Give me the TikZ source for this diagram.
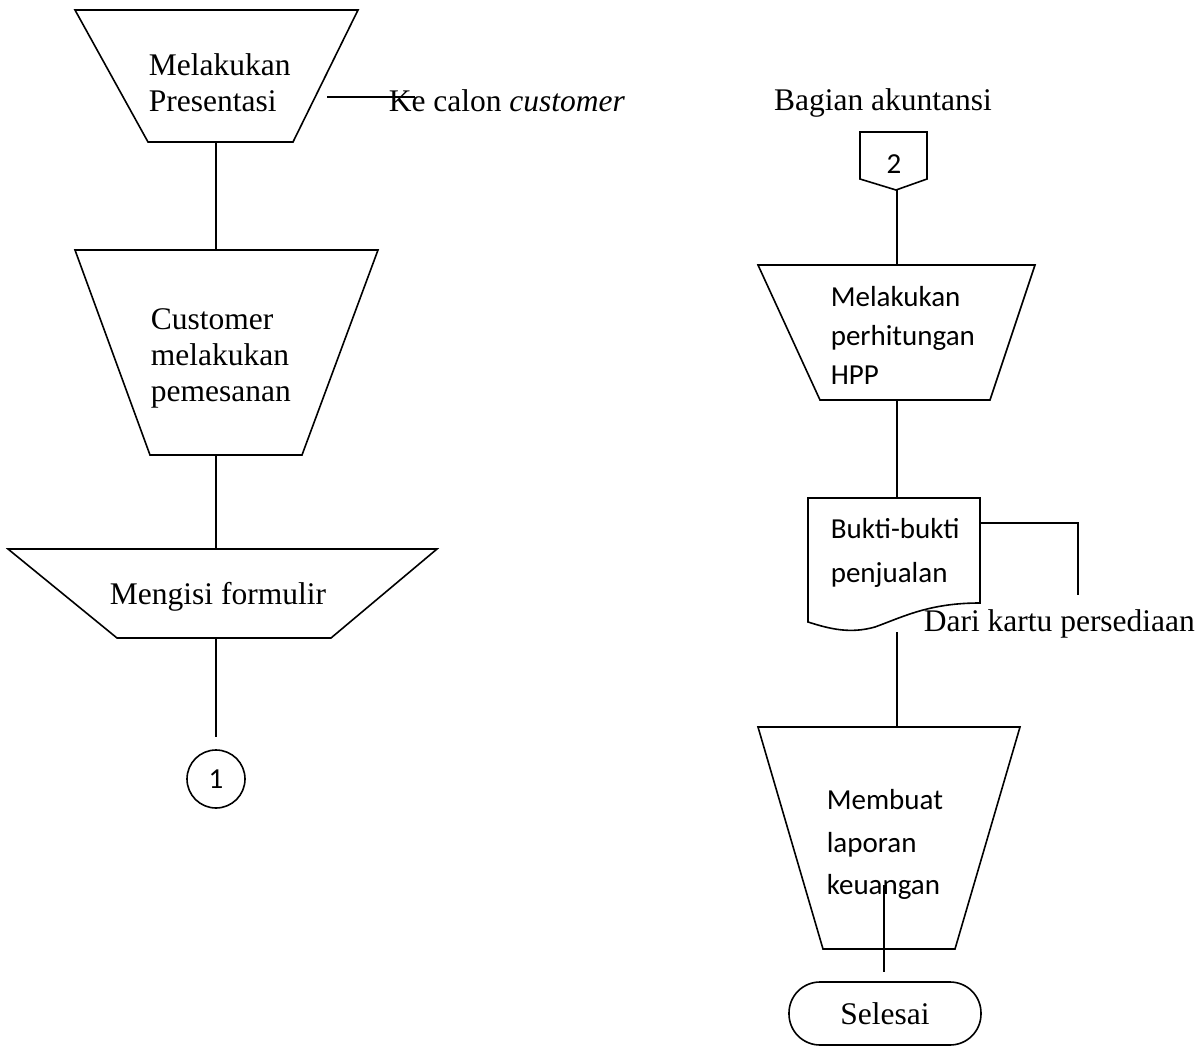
\documentclass[tikz,border=0pt]{standalone}
\usepackage{fontspec}
\setmainfont{Liberation Serif}
\newfontfamily\calib{Carlito}
\begin{document}
\begin{tikzpicture}[x=1pt,y=-1pt,line width=1.6pt,
  shp/.style={draw,line join=miter},
  ser/.style={font=\fontsize{31.5}{35.5}\selectfont,inner sep=0pt},
  san/.style={font=\calib\fontsize{29}{39}\selectfont,inner sep=0pt},
  conn/.style={draw,line width=1.6pt}]
\useasboundingbox (0,0) rectangle (1203,1046);
% ---------- left column ----------
\draw[shp] (75,10) -- (358,10) -- (293,142) -- (148,142) -- cycle;
\coordinate (t1b) at (216,142);
\node[ser,align=left,anchor=north west] (t1) at (148,53) {Melakukan\\Presentasi};
\coordinate (kes) at (327,97);
\coordinate (kee) at (415,97);
\node[ser,anchor=west] (ke) at (388,101) {Ke calon \textit{customer}};
\draw[conn] (kes) -- (kee);

\draw[shp] (75,250) -- (378,250) -- (302,455) -- (150,455) -- cycle;
\coordinate (t2t) at (216,250);
\coordinate (t2b) at (216,455);
\node[ser,align=left,anchor=north west,font=\fontsize{31.5}{36}\selectfont] (t2) at (150,308) {Customer\\melakukan\\pemesanan};

\draw[shp] (8,549) -- (437,549) -- (331,638) -- (117,638) -- cycle;
\coordinate (t3t) at (216,549);
\coordinate (t3b) at (216,638);
\node[ser] (t3) at (218,597) {Mengisi formulir};

\coordinate (c1t) at (216,737);
\node[draw,circle,minimum size=58pt,inner sep=0pt,font=\calib\fontsize{29}{34}\selectfont] (c1) at (216,779) {1};

\draw[conn] (t1b) -- (t2t);
\draw[conn] (t2b) -- (t3t);
\draw[conn] (t3b) -- (c1t);

% ---------- right column ----------
\node[ser] (ba) at (883,103) {Bagian akuntansi};

\draw[shp] (860,132) -- (927,132) -- (927,179) -- (896,190) -- (860,179) -- cycle;
\node[san] (p2) at (894,164) {2};
\coordinate (p2b) at (897,190);

\draw[shp] (758,265) -- (1035,265) -- (990,400) -- (820,400) -- cycle;
\coordinate (t4t) at (897,265);
\coordinate (t4b) at (897,400);
\node[san,align=left,anchor=north west] (t4) at (830,286) {Melakukan\\perhitungan\\HPP};

\draw[shp] (808,498) -- (980,498) -- (980,603)
   .. controls (930,603) and (905,616) .. (875,627)
   .. controls (850,634) and (830,629) .. (808,622) -- cycle;
\coordinate (dt) at (897,498);
\coordinate (db) at (897,632);
\node[san,align=left,anchor=north west,font=\calib\fontsize{29}{44}\selectfont] (doc) at (830,518) {Bukti-bukti\\penjualan};
\coordinate (dr) at (980,523);
\coordinate (dk) at (1078,595);
\draw[conn] (dr) -| (dk);
\node[ser,anchor=west] (dari) at (923,624) {Dari kartu persediaan};

\draw[shp] (758,727) -- (1020,727) -- (955,949) -- (823,949) -- cycle;
\coordinate (t5t) at (897,727);
\node[san,align=left,anchor=north west,font=\calib\fontsize{29}{42.5}\selectfont] (t5) at (826,789) {Membuat\\laporan\\keuangan};
\coordinate (t5s) at (884,885);
\coordinate (t5e) at (884,972);

\node[draw,rounded corners=31pt,minimum width=192pt,minimum height=63pt,inner sep=0pt,ser] (end) at (885,1013.5) {Selesai};

\draw[conn] (p2b) -- (t4t);
\draw[conn] (t4b) -- (dt);
\draw[conn] (db) -- (t5t);
\draw[conn] (t5s) -- (t5e);
\end{tikzpicture}
\end{document}
